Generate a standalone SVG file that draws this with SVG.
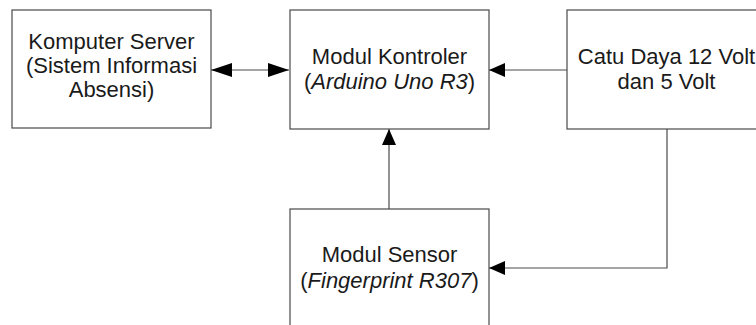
<svg xmlns="http://www.w3.org/2000/svg" width="756" height="325" viewBox="0 0 756 325">
<defs>
<style>
.box{fill:#ffffff;stroke:#4a4a4a;stroke-width:1.2}
.t{font-family:"Liberation Sans",Arial,sans-serif;font-size:22px;fill:#1a1a1a;text-anchor:middle}
.c{fill:none;stroke:#4a4a4a;stroke-width:1.2}
</style>
<marker id="ah" viewBox="0 0 16 14" refX="16" refY="7" markerWidth="16" markerHeight="14" markerUnits="userSpaceOnUse" orient="auto-start-reverse">
<path d="M0,0 L16,7 L0,14 Z" fill="#000"/>
</marker>
<marker id="ahl" viewBox="0 0 21 14" refX="21" refY="7" markerWidth="21" markerHeight="14" markerUnits="userSpaceOnUse" orient="auto-start-reverse">
<path d="M0,0 L21,7 L0,14 Z" fill="#000"/>
</marker>
</defs>
<rect width="756" height="325" fill="#ffffff"/>
<g id="connectors">
<line class="c" x1="211" y1="70" x2="289" y2="70" marker-start="url(#ahl)" marker-end="url(#ahl)"/>
<line class="c" x1="567" y1="70" x2="489" y2="70" marker-end="url(#ah)"/>
<line class="c" x1="389" y1="209" x2="389" y2="129" marker-end="url(#ah)"/>
<polyline class="c" points="667,129 667,268 489,268" marker-end="url(#ah)"/>
</g>
<g id="komputer">
<rect class="box" x="12" y="10" width="199" height="118"/>
<text class="t" x="111.5" y="49">Komputer Server</text>
<text class="t" x="111.5" y="73">(Sistem Informasi</text>
<text class="t" x="111.5" y="97">Absensi)</text>
</g>
<g id="kontroler">
<rect class="box" x="290" y="10" width="199" height="119"/>
<text class="t" x="389.5" y="64">Modul Kontroler</text>
<text class="t" x="389.5" y="89">(<tspan font-style="italic">Arduino Uno R3</tspan>)</text>
</g>
<g id="catu">
<rect class="box" x="567" y="10" width="199" height="119"/>
<text class="t" x="666.5" y="64">Catu Daya 12 Volt</text>
<text class="t" x="666.5" y="89">dan 5 Volt</text>
</g>
<g id="sensor">
<rect class="box" x="290" y="209" width="199" height="119"/>
<text class="t" x="389.5" y="262">Modul Sensor</text>
<text class="t" x="389.5" y="288">(<tspan font-style="italic">Fingerprint R307</tspan>)</text>
</g>
</svg>
